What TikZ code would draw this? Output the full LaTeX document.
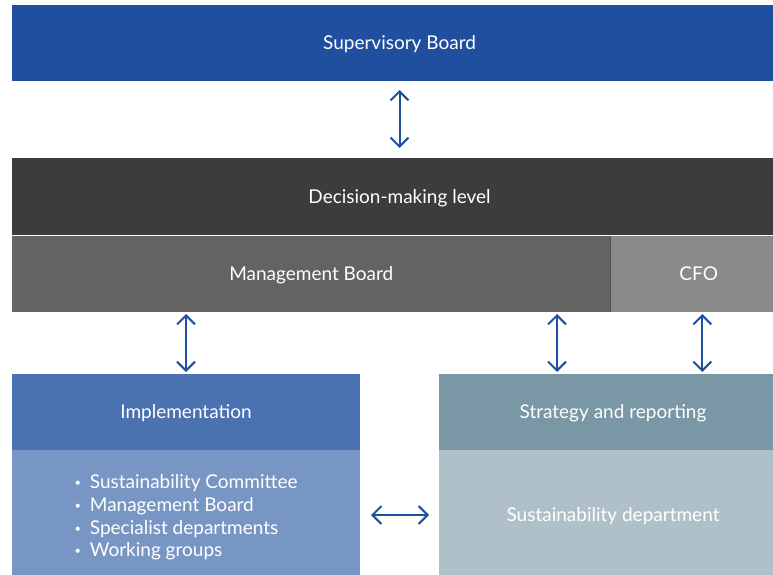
\documentclass[tikz,border=0pt]{standalone}
\usepackage{fontspec}
\setmainfont{Lato}
\usetikzlibrary{arrows.meta}
\definecolor{supblue}{HTML}{1F4F9E}
\definecolor{decgray}{HTML}{3C3C3B}
\definecolor{mbgray}{HTML}{636362}
\definecolor{cfogray}{HTML}{8A8A89}
\definecolor{impblue}{HTML}{4A72B0}
\definecolor{bodyblue}{HTML}{7896C4}
\definecolor{stratgray}{HTML}{7A97A5}
\definecolor{sustgray}{HTML}{B0C0C8}
\definecolor{arrblue}{HTML}{1F4F9E}
\newcommand\mybul{\raisebox{2pt}{\fontsize{11}{11}\selectfont\textbullet}\hspace{9pt}}
\begin{document}
\begin{tikzpicture}[x=1pt,y=-1pt,
  box/.style={rectangle,inner sep=0pt,outer sep=0pt,anchor=north west,text=white,
    font=\fontsize{19}{22.7}\selectfont},
  hdr/.style={box,text height=13.5pt,text depth=0pt},
  arr/.style={draw=arrblue,line width=2pt,
    {Straight Barb[length=9pt,width=18pt]}-{Straight Barb[length=9pt,width=18pt]}}]
\useasboundingbox (0,0) rectangle (773,575);
\clip (0,0) rectangle (773,575);
\node[hdr,fill=supblue,minimum width=775pt,minimum height=76pt] (sup) at (12,5) {Supervisory Board};
\node[hdr,fill=decgray,minimum width=775pt,minimum height=76.5pt] (dec) at (12,158) {Decision-making level};
\node[hdr,fill=mbgray,minimum width=598.5pt,minimum height=76pt] (mb) at (12,236) {Management Board};
\node[hdr,fill=cfogray,minimum width=176.5pt,minimum height=76pt] (cfo) at (610.5,236) {CFO};
\node[hdr,fill=impblue,minimum width=348pt,minimum height=76pt] (imp) at (12,374) {Implementation};
\node[box,fill=bodyblue,minimum width=348pt,minimum height=130pt,align=left] (body) at (12,450)
  {\rule{0pt}{19pt}\mybul Sustainability Committee\\
   \mybul Management Board\\
   \mybul Specialist departments\\
   \mybul Working groups};
\node[hdr,fill=stratgray,minimum width=348pt,minimum height=76pt] (strat) at (439,374) {Strategy and reporting};
\node[hdr,fill=sustgray,minimum width=348pt,minimum height=130pt] (sust) at (439,450) {Sustainability department};
\draw[mbgray!80!black,line width=0.6pt] (cfo.north west) -- (cfo.south west);
\draw[arr,shorten <=9pt,shorten >=10pt] (sup.south) -- (dec.north);
\draw[arr,shorten <=2pt,shorten >=2pt] (imp.north |- mb.south) -- (imp.north);
\draw[arr,shorten <=2pt,shorten >=2pt] ([xshift=-56pt]strat.north |- mb.south) -- ([xshift=-56pt]strat.north);
\draw[arr,shorten <=2pt,shorten >=2pt] ([xshift=3.5pt]cfo.south) -- ([xshift=3.5pt]cfo.south |- strat.north);
\draw[arr,shorten <=11pt,shorten >=10pt] (body.east) -- (body.east -| sust.west);
\end{tikzpicture}
\end{document}
